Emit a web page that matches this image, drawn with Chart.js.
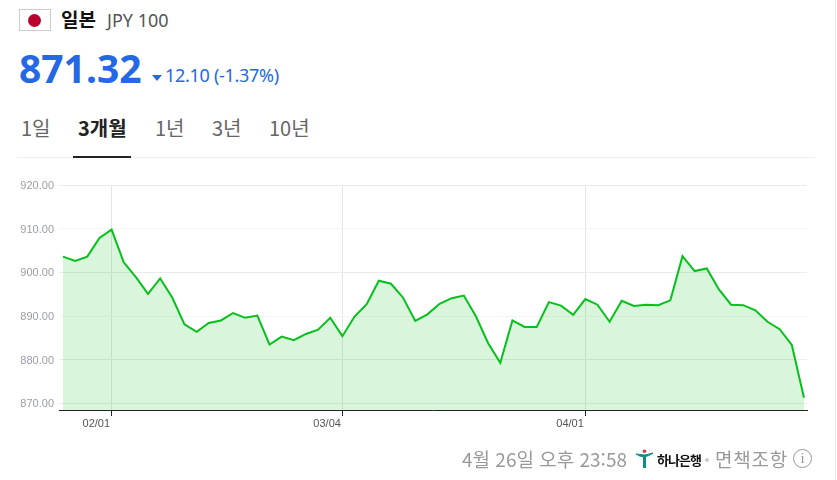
<!DOCTYPE html>
<html lang="ko">
<head>
<meta charset="utf-8">
<script src="https://cdn.jsdelivr.net/npm/chart.js@4"></script>
<style>
    html, body { margin: 0; padding: 0; background: #fff; overflow: hidden; }
    body { width: 837px; height: 480px; position: relative; font-family: "Noto Sans CJK KR", sans-serif; }
    .txt { position: absolute; white-space: nowrap; line-height: 1; }
    #flag { position: absolute; left: 19px; top: 9px; width: 30px; height: 20px; border: 1px solid #ccc; }
    #flag i { position: absolute; left: 8px; top: 3.5px; width: 13px; height: 13px; border-radius: 50%; background: #bc002d; }
    #tri { position: absolute; left: 152px; top: 75px; width: 0; height: 0; border: 5px solid transparent; border-top: 6px solid #2468e5; border-bottom: 0; }
    #tab_line { position: absolute; left: 17px; top: 157px; width: 798px; height: 1px; background: #eee; }
    #tab_active { position: absolute; left: 73px; top: 156px; width: 58px; height: 2px; background: #222; }
    #chart_box { position: absolute; left: 0; top: 170px; width: 837px; height: 280px; }
    #page_edge { position: absolute; left: 835px; top: 0; width: 1px; height: 480px; background: #e8e8e8; }
    #logo { position: absolute; left: 636px; top: 449px; }
    #dot { position: absolute; left: 705px; top: 458px; width: 4px; height: 4px; border-radius: 50%; background: #ccc; }
    #info { position: absolute; left: 793px; top: 449px; width: 17px; height: 17px; border: 1px solid #999; border-radius: 50%; color: #999; font: 15px/17px "Liberation Serif", serif; text-align: center; }
</style>
</head>
<body>
<div id="page_edge"></div>
<div id="flag"><i></i></div>
<div class="txt" style="left:61px;top:9px;font-size:19px;font-weight:700;color:#111">일본</div>
<div class="txt" style="left:107px;top:11px;font-size:18px;color:#555;font-family:'Noto Sans'">JPY 100</div>
<div class="txt" style="left:19px;top:48px;font-size:39px;font-weight:700;color:#2468e5;font-family:'Noto Sans'">871.32</div>
<div id="tri"></div>
<div class="txt" style="left:165px;top:66px;font-size:18px;letter-spacing:-0.3px;color:#2468e5;font-family:'Noto Sans'">12.10 (-1.37%)</div>

<div class="txt" style="left:21px;top:118px;font-size:20px;color:#666">1일</div>
<div class="txt" style="left:78px;top:118px;font-size:20px;font-weight:700;color:#222">3개월</div>
<div class="txt" style="left:155px;top:118px;font-size:20px;color:#666">1년</div>
<div class="txt" style="left:212px;top:118px;font-size:20px;color:#666">3년</div>
<div class="txt" style="left:269px;top:118px;font-size:20px;color:#666">10년</div>
<div id="tab_line"></div>
<div id="tab_active"></div>

<div id="chart_box"><canvas id="rate_chart"></canvas></div>

<div class="txt" style="left:462px;top:449px;font-size:19px;color:#999">4월 26일 오후 23:58</div>
<svg id="logo" width="18" height="20" viewBox="0 0 18 20">
    <path d="M0 5 Q8 11 17 4 Q9 7.5 0 5Z" fill="#0a8f86" stroke="#0a8f86"/>
    <circle cx="8.5" cy="2.2" r="1.8" fill="#d9343f"/>
    <path d="M7 8 L10 8 L10 19 L7 19Z" fill="#0a8f86"/>
</svg>
<div class="txt" style="left:657px;top:453px;font-size:13px;font-weight:700;letter-spacing:-1px;color:#111">하나은행</div>
<div id="dot"></div>
<div class="txt" style="left:715px;top:449px;font-size:19px;letter-spacing:0.8px;color:#999">면책조항</div>
<div id="info">i</div>

<script>
const rateValues = [
    903.6, 902.6, 903.6, 907.9, 909.8, 902.3, 898.9, 895.1, 898.6, 894.2,
    888.1, 886.4, 888.4, 889.0, 890.7, 889.6, 890.1, 883.5, 885.3, 884.5,
    885.9, 886.9, 889.6, 885.4, 889.9, 892.7, 898.1, 897.4, 894.2, 888.9,
    890.4, 892.8, 894.1, 894.7, 889.9, 883.8, 879.3, 889.0, 887.5, 887.5,
    893.2, 892.4, 890.3, 893.9, 892.6, 888.7, 893.5, 892.3, 892.6, 892.5,
    893.6, 903.7, 900.3, 900.9, 896.1, 892.6, 892.5, 891.3, 888.7, 887.0,
    883.4, 871.32
];
const xTickIndexes = [4, 23, 43];
const xTickLabels = ['02/01', '03/04', '04/01'];
const yTickValues = [870, 880, 890, 900, 910, 920];

const rateCanvas = document.getElementById('rate_chart');

/* Line chart with the area under it filled */
let rateChart = new Chart(rateCanvas, {
    type: 'line',
    data: {
        datasets: [{
            data: rateValues.map((v, i) => ({ x: i, y: v })),
            borderColor: '#06c01c',
            borderWidth: 2,
            borderJoinStyle: 'miter',
            backgroundColor: 'rgba(45, 200, 55, .18)',
            fill: 'start',
            pointRadius: 0,
            tension: 0
        }]
    },
    options: {
        responsive: true,
        maintainAspectRatio: false,
        animation: { duration: 0 },
        layout: { padding: { top: 15, right: 30, left: 0, bottom: 0 } },
        plugins: {
            legend: { display: false },
            tooltip: { enabled: false }
        },
        scales: {
            x: {
                type: 'linear',
                min: -0.33,
                max: 61.25,
                afterBuildTicks: axis => { axis.ticks = xTickIndexes.map(v => ({ value: v })); },
                afterFit: axis => { axis.height = 40; },
                border: { color: '#222', width: 1 },
                grid: { color: '#e2e4e6', tickColor: '#222', tickLength: 6 },
                ticks: {
                    align: 'end',
                    maxRotation: 0,
                    autoSkip: false,
                    padding: 1,
                    labelOffset: -1.5,
                    color: '#555',
                    font: { family: '"Liberation Sans"', size: 11 },
                    callback: value => xTickLabels[xTickIndexes.indexOf(value)]
                }
            },
            y: {
                min: 868.5,
                max: 920,
                afterBuildTicks: axis => { axis.ticks = yTickValues.map(v => ({ value: v })); },
                afterFit: axis => { axis.width = 59; },
                border: { display: false },
                grid: {
                    drawTicks: false,
                    color: ctx => (ctx.tick.value === 910 || ctx.tick.value === 890) ? '#f5f5f5' : '#ebebeb'
                },
                ticks: {
                    padding: 5,
                    labelOffset: 1,
                    color: '#9a9ea6',
                    font: { family: '"Liberation Sans"', size: 11 },
                    callback: value => value.toFixed(2)
                }
            }
        }
    }
});
</script>
</body>
</html>
